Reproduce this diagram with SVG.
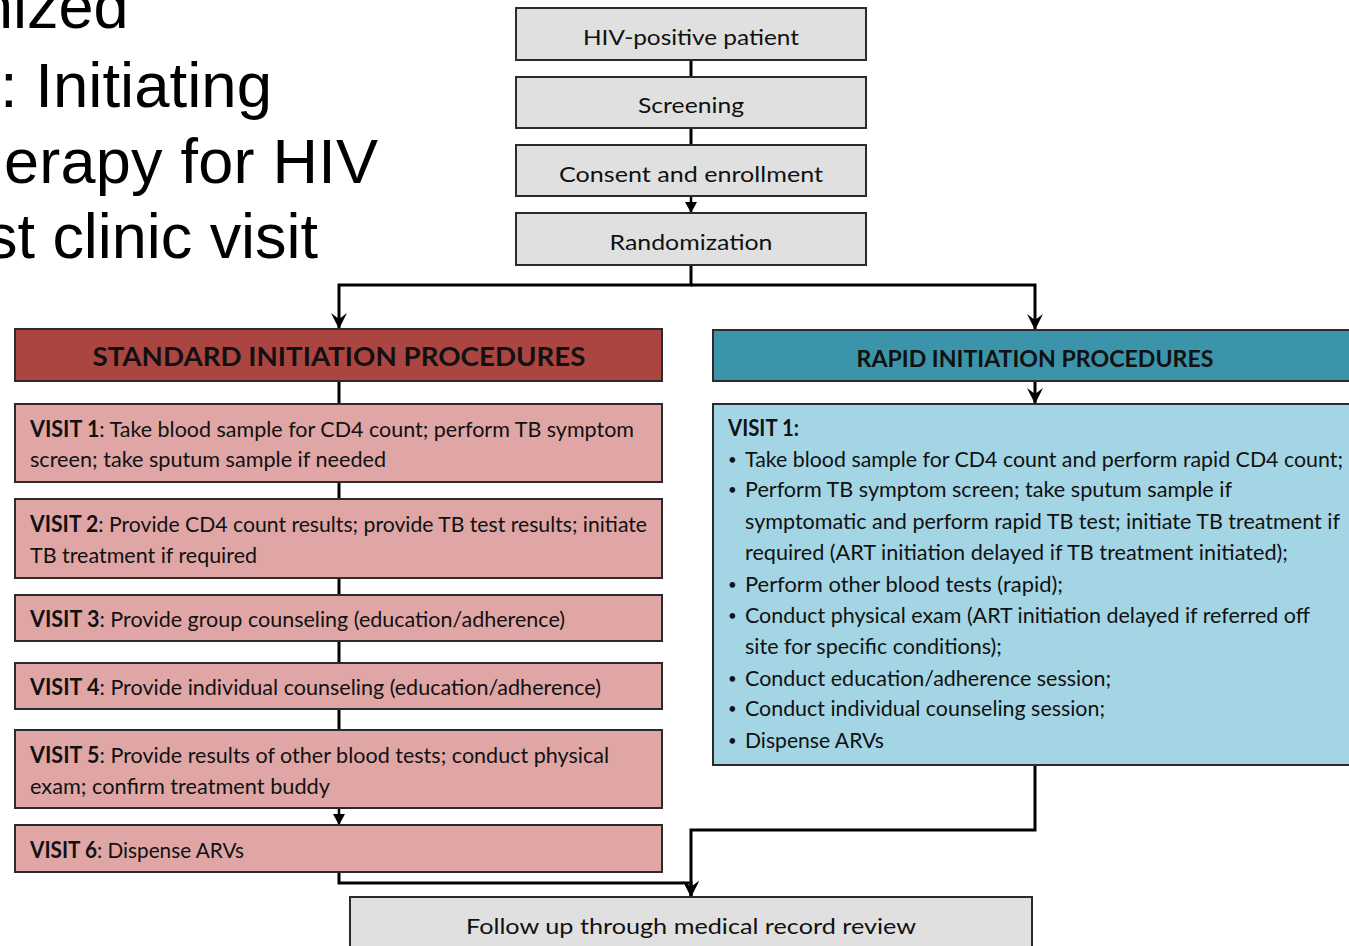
<svg xmlns="http://www.w3.org/2000/svg" width="1349" height="946" viewBox="0 0 1349 946">
<defs>
<style>
.box{stroke:#2b2b2b;stroke-width:2}
.gray{fill:#e0e0e0}
.stdh{fill:#ab4542}
.std{fill:#e0a6a6}
.rah{fill:#3b94a9}
.ra{fill:#a3d5e4}
.t{font-family:Lato,"Open Sans",sans-serif;font-size:22px;fill:#111}
.tc{text-anchor:middle}
.b{font-weight:bold}
.bul{font-size:15px}
.h{font-family:Lato,"Open Sans",sans-serif;font-weight:bold;fill:#111;text-anchor:middle}
.title{font-family:"Liberation Sans",Arial,sans-serif;font-size:63px;fill:#000}
.con{fill:none;stroke:#000;stroke-width:3}
.thin{fill:none;stroke:#000;stroke-width:2.5}
</style>
<marker id="arr" markerUnits="userSpaceOnUse" markerWidth="20" markerHeight="20" viewBox="-17 -10 20 20" refX="0" refY="0" orient="auto">
<path d="M1,0 L-15,-8 L-9,0 L-15,8 Z" fill="#000"/>
</marker>
<marker id="sarr" markerUnits="userSpaceOnUse" markerWidth="12" markerHeight="14" viewBox="-11 -7 12 14" refX="0" refY="0" orient="auto">
<path d="M1,0 L-10,-6 L-10,6 Z" fill="#000"/>
</marker>
</defs>
<rect width="1349" height="946" fill="#fff"/>
<g id="title">
<text class="title" x="-22" y="28">nized</text>
<text class="title" x="0" y="107" textLength="272" lengthAdjust="spacingAndGlyphs">: Initiating</text>
<text class="title" x="4" y="183" textLength="374" lengthAdjust="spacing">erapy  for HIV</text>
<text class="title" x="-14" y="258" textLength="332" lengthAdjust="spacing">st clinic visit</text>
</g>
<g id="connectors">
<path class="con" d="M691,60 V77"/>
<path class="con" d="M691,128 V145"/>
<path class="thin" d="M691,196 V212" marker-end="url(#sarr)"/>
<path class="con" d="M691,265 V285 H339 V328" marker-end="url(#arr)"/>
<path class="con" d="M691,285 H1035 V329" marker-end="url(#arr)"/>
<path class="con" d="M339,381 V404"/>
<path class="con" d="M339,482 V499"/>
<path class="con" d="M339,578 V595"/>
<path class="con" d="M339,641 V663"/>
<path class="con" d="M339,709 V730"/>
<path class="thin" d="M339,808 V824" marker-end="url(#sarr)"/>
<path class="con" d="M1035,381 V403" marker-end="url(#arr)"/>
<path class="con" d="M339,872 V883 H691 V896" marker-end="url(#arr)"/>
<path class="con" d="M1035,765 V830 H691 V896" marker-end="url(#arr)"/>
</g>
<g id="hiv"><rect class="box gray" x="516" y="8" width="350" height="52"/><text class="t tc" x="691" y="45" font-size="23" textLength="216" lengthAdjust="spacingAndGlyphs">HIV-positive patient</text></g>
<g id="screening"><rect class="box gray" x="516" y="77" width="350" height="51"/><text class="t tc" x="691" y="113" font-size="23" textLength="106" lengthAdjust="spacingAndGlyphs">Screening</text></g>
<g id="consent"><rect class="box gray" x="516" y="145" width="350" height="51"/><text class="t tc" x="691" y="182" font-size="23" textLength="264" lengthAdjust="spacingAndGlyphs">Consent and enrollment</text></g>
<g id="randomization"><rect class="box gray" x="516" y="213" width="350" height="52"/><text class="t tc" x="691" y="250" font-size="23" textLength="163" lengthAdjust="spacingAndGlyphs">Randomization</text></g>
<g id="std-header"><rect class="box stdh" x="15" y="329" width="647" height="52"/><text class="h" x="339" y="366" font-size="26" textLength="493" lengthAdjust="spacingAndGlyphs">STANDARD INITIATION PROCEDURES</text></g>
<g id="rapid-header"><rect class="box rah" x="713" y="330" width="660" height="51"/><text class="h" x="1035" y="367" font-size="23" textLength="357" lengthAdjust="spacingAndGlyphs">RAPID INITIATION PROCEDURES</text></g>
<g id="visit1"><rect class="box std" x="15" y="404" width="647" height="78"/>
<text class="t" x="30" y="437" textLength="604" lengthAdjust="spacingAndGlyphs"><tspan class="b">VISIT 1</tspan>:  Take blood sample for CD4 count; perform TB symptom</text>
<text class="t" x="30" y="467" textLength="356" lengthAdjust="spacingAndGlyphs">screen; take sputum sample if needed</text></g>
<g id="visit2"><rect class="box std" x="15" y="499" width="647" height="79"/>
<text class="t" x="30" y="532" textLength="617" lengthAdjust="spacingAndGlyphs"><tspan class="b">VISIT 2</tspan>: Provide CD4 count results; provide TB test results; initiate</text>
<text class="t" x="30" y="563" textLength="227" lengthAdjust="spacingAndGlyphs">TB treatment if required</text></g>
<g id="visit3"><rect class="box std" x="15" y="595" width="647" height="46"/>
<text class="t" x="30" y="627" textLength="535" lengthAdjust="spacingAndGlyphs"><tspan class="b">VISIT 3</tspan>: Provide group counseling (education/adherence)</text></g>
<g id="visit4"><rect class="box std" x="15" y="663" width="647" height="46"/>
<text class="t" x="30" y="695" textLength="571" lengthAdjust="spacingAndGlyphs"><tspan class="b">VISIT 4</tspan>: Provide individual counseling (education/adherence)</text></g>
<g id="visit5"><rect class="box std" x="15" y="730" width="647" height="78"/>
<text class="t" x="30" y="763" textLength="579" lengthAdjust="spacingAndGlyphs"><tspan class="b">VISIT 5</tspan>:  Provide results of other blood tests; conduct physical</text>
<text class="t" x="30" y="794" textLength="300" lengthAdjust="spacingAndGlyphs">exam; confirm treatment buddy</text></g>
<g id="visit6"><rect class="box std" x="15" y="825" width="647" height="47"/>
<text class="t" x="30" y="858" textLength="214" lengthAdjust="spacingAndGlyphs"><tspan class="b">VISIT 6</tspan>: Dispense ARVs</text></g>
<g id="rapid-visit1"><rect class="box ra" x="713" y="404" width="660" height="361"/>
<text class="t b" x="728" y="436" textLength="71" lengthAdjust="spacingAndGlyphs">VISIT 1:</text>
<g class="t">
<text class="bul" x="728" y="465">•</text><text x="745" y="467" textLength="598" lengthAdjust="spacingAndGlyphs">Take blood sample for CD4 count and perform rapid CD4 count;</text>
<text class="bul" x="728" y="495">•</text><text x="745" y="497" textLength="487" lengthAdjust="spacingAndGlyphs">Perform TB symptom screen; take sputum sample if</text>
<text x="745" y="529" textLength="595" lengthAdjust="spacingAndGlyphs">symptomatic and perform rapid TB test; initiate TB treatment if</text>
<text x="745" y="560" textLength="543" lengthAdjust="spacingAndGlyphs">required (ART initiation delayed if TB treatment initiated);</text>
<text class="bul" x="728" y="590">•</text><text x="745" y="592" textLength="318" lengthAdjust="spacingAndGlyphs">Perform other blood tests (rapid);</text>
<text class="bul" x="728" y="621">•</text><text x="745" y="623" textLength="565" lengthAdjust="spacingAndGlyphs">Conduct physical exam (ART initiation delayed if referred off</text>
<text x="745" y="654" textLength="257" lengthAdjust="spacingAndGlyphs">site for specific conditions);</text>
<text class="bul" x="728" y="684">•</text><text x="745" y="686" textLength="366" lengthAdjust="spacingAndGlyphs">Conduct education/adherence session;</text>
<text class="bul" x="728" y="714">•</text><text x="745" y="716" textLength="360" lengthAdjust="spacingAndGlyphs">Conduct individual counseling session;</text>
<text class="bul" x="728" y="746">•</text><text x="745" y="748" textLength="139" lengthAdjust="spacingAndGlyphs">Dispense ARVs</text>
</g></g>
<g id="follow-up"><rect class="box gray" x="350" y="897" width="682" height="70"/>
<text class="t tc" x="691" y="934" font-size="23" textLength="450" lengthAdjust="spacingAndGlyphs">Follow up through medical record review</text></g>
</svg>
